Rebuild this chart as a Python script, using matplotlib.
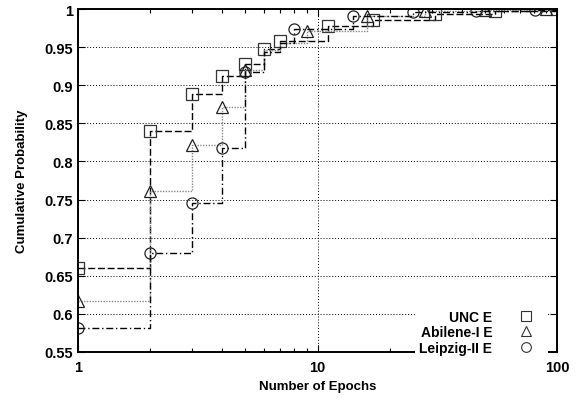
import matplotlib.pyplot as plt
from matplotlib.lines import Line2D
from matplotlib.ticker import FixedLocator, NullFormatter

plt.rcParams['font.family'] = 'Liberation Sans'
plt.rcParams['font.weight'] = 'bold'

# CDF of epochs per trace
unc_x = [1, 2, 3, 4, 5, 6, 7, 11, 17, 31, 55, 100]
unc_y = [0.660, 0.840, 0.888, 0.912, 0.928, 0.948, 0.958, 0.978, 0.985, 0.993, 0.997, 1.0]

abilene_x = [1, 2, 3, 4, 5, 6, 7, 9, 16, 28, 50, 90, 100]
abilene_y = [0.617, 0.761, 0.822, 0.872, 0.920, 0.946, 0.956, 0.971, 0.991, 0.997, 0.999, 1.0, 1.0]

leipzig_x = [1, 2, 3, 4, 5, 6, 7, 8, 14, 25, 46, 81, 100]
leipzig_y = [0.581, 0.680, 0.745, 0.818, 0.918, 0.944, 0.955, 0.974, 0.991, 0.996, 0.998, 0.999, 1.0]

labels = ['UNC E', 'Abilene-I E', 'Leipzig-II E']
marks = [0, 1, 2, 3, 4, 7, 8, 9, 10, 11]

fig = plt.figure(figsize=(5.78, 4.02), dpi=100)
ax = fig.add_axes([0.135, 0.122, 0.829, 0.853])

ax.plot(unc_x, unc_y, drawstyle='steps-post', color='black', lw=1.0,
        ls=(0, (5, 2)), marker='s', ms=8.5, mfc='none', mec='#333333', mew=0.9)
ax.plot(abilene_x, abilene_y, drawstyle='steps-post', color='#888888', lw=1.0,
        ls=(0, (1, 1)), marker='^', ms=8.5, mfc='none', mec='#222222', mew=0.9,
        markevery=marks)
ax.plot(leipzig_x, leipzig_y, drawstyle='steps-post', color='black', lw=1.0,
        ls=(0, (5, 2, 1, 2)), marker='o', ms=8, mfc='none', mec='#222222', mew=0.9,
        markevery=marks)

ax.set_xscale('log')
ax.set_xlim(1, 100)
ax.set_ylim(0.55, 1.0)

ax.xaxis.set_major_locator(FixedLocator([1, 10, 100]))
ax.set_xticklabels(['1', '10', '100'])
ax.xaxis.set_minor_locator(FixedLocator([m * d for d in (1, 10) for m in range(2, 10)]))
ax.xaxis.set_minor_formatter(NullFormatter())
yt = [0.55 + 0.05 * i for i in range(10)]
ax.set_yticks(yt)
ax.set_yticklabels(['0.55', '0.6', '0.65', '0.7', '0.75', '0.8', '0.85', '0.9', '0.95', '1'])

ax.tick_params(which='both', direction='in', top=True, right=True, labelsize=10.5)
ax.tick_params(which='major', length=5, width=0.8)
ax.tick_params(which='minor', length=3, width=0.8)
ax.tick_params(axis='x', pad=6)
ax.grid(True, which='major', color='black', ls=(0, (1, 2)), lw=0.7)
for s in ax.spines.values():
    s.set_linewidth(1.4)

ax.set_xlabel('Number of Epochs', fontsize=9.5, fontweight='bold', labelpad=4)
ax.set_ylabel('Cumulative Probability', fontsize=9.5, fontweight='bold', labelpad=12)

handles = [
    Line2D([], [], ls='none', marker='s', ms=7, mfc='none', mec='#333333', mew=0.8),
    Line2D([], [], ls='none', marker='^', ms=7, mfc='none', mec='#333333', mew=0.8),
    Line2D([], [], ls='none', marker='o', ms=7, mfc='none', mec='#333333', mew=0.8),
]
leg = ax.legend(handles, labels, loc='lower right', bbox_to_anchor=(0.995, -0.04),
                markerfirst=False, frameon=True, facecolor='white', edgecolor='none',
                framealpha=1.0, fancybox=False, fontsize=10, labelspacing=0.1,
                handlelength=2.5, handletextpad=1.2, borderpad=0.3)
for t in leg.get_texts():
    t.set_ha('right')
    t.set_fontweight('bold')

fig.savefig('out.png', dpi=100)
